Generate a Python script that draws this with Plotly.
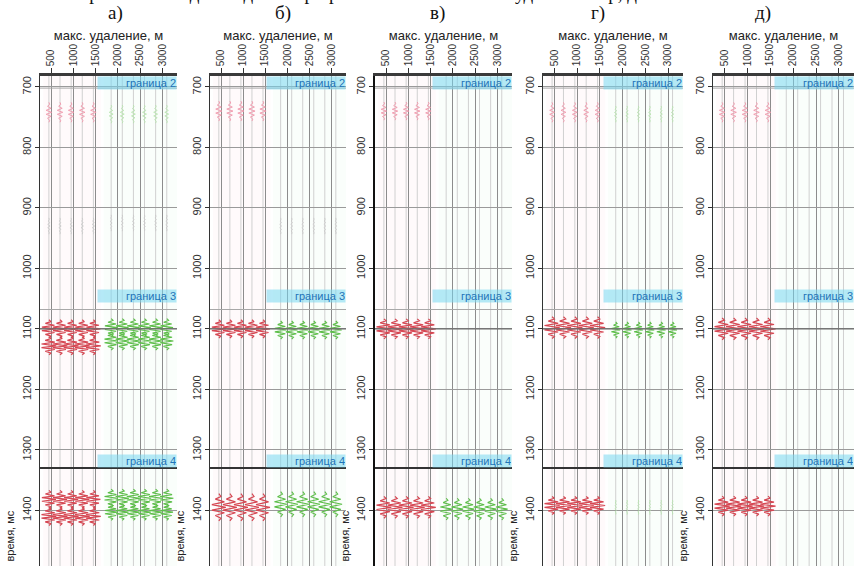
import plotly.graph_objects as go

# ---------------- data ----------------
panel_labels = ["а)", "б)", "в)", "г)", "д)"]
caption_text = "Сейсмограммы ОГТ для моделей при разных максимальных удалениях: р, д"
offset_ticks = [500, 1000, 1500, 2000, 2500, 3000]
offset_ticktext = ["500", "1000", "1500", "2000", "2500", "3000"]
time_ticks = [700, 800, 900, 1000, 1100, 1200, 1300, 1400]
time_ticktext = ["700", "800", "900", "1000", "1100", "1200", "1300", "1400"]
x_title = "макс. удаление, м"
y_title = "время, мс"

near_offsets = [450, 700, 950, 1200, 1450]
far_offsets = [1850, 2100, 2350, 2600, 2850, 3100]
trace_baselines = [450, 700, 950, 1200, 1450, 1850, 2100, 2350, 2600, 2850, 3100]

# one wavelet (relative time, ms / normalised amplitude)
wavelet_dt = [-30, -24, -18, -12, -6, 0, 6, 12, 18, 24, 30]
wavelet_amp = [0.0, 0.3, -0.5, 0.8, -1.0, 1.0, -1.0, 0.8, -0.5, 0.3, 0.0]

boundary_names = ["граница 2", "граница 3", "граница 4"]
boundary_label_times = [693, 1046, 1318]
boundary_line_times = [702, 1068, 1330]
boundary_line_dark = [False, False, True]

# events per panel: (time ms, group, colour key, amplitude, time stretch)
panel_events = [
    [(742, "near", "pink", 0.35, 0.55), (745, "far", "pale", 0.25, 0.5),
     (930, "near", "grey", 0.15, 0.45), (925, "far", "grey", 0.12, 0.45),
     (1100, "near", "red", 0.9, 0.5), (1128, "near", "red", 0.95, 0.5),
     (1098, "far", "green", 0.8, 0.5), (1120, "far", "green", 0.85, 0.5),
     (1382, "near", "red", 0.9, 0.5), (1410, "near", "red", 0.95, 0.5),
     (1380, "far", "green", 0.85, 0.5), (1403, "far", "green", 0.8, 0.45)],
    [(740, "near", "pink", 0.4, 0.55), (930, "far", "grey", 0.12, 0.45),
     (1100, "near", "red", 0.9, 0.5), (1102, "far", "green", 0.75, 0.5),
     (1395, "near", "red", 0.9, 0.75), (1390, "far", "green", 0.8, 0.7)],
    [(740, "near", "pink", 0.35, 0.5),
     (1100, "near", "red", 0.95, 0.55),
     (1395, "near", "red", 0.95, 0.6), (1398, "far", "green", 0.75, 0.6)],
    [(742, "near", "pink", 0.3, 0.55), (745, "far", "pale", 0.15, 0.45),
     (1098, "near", "red", 0.95, 0.6), (1102, "far", "green", 0.55, 0.45),
     (1392, "near", "red", 0.95, 0.5), (1395, "far", "pale", 0.1, 0.4)],
    [(742, "near", "pink", 0.35, 0.55),
     (1100, "near", "red", 0.95, 0.6),
     (1393, "near", "red", 0.95, 0.55)],
]

# ---------------- styles / layout ----------------
W, H = 854, 566
panel_px = [(40, 177), (210, 346), (375, 512), (543, 683), (713, 854)]
label_px = [115, 283, 437, 598, 763]
top_px = 76
x_range = [250, 3330]
y_range = [1492, 682]
near_band = [320, 1620]
far_band = [1680, 3330]
amp_scale = 175
colors = {"red": "rgb(214,70,82)", "green": "rgb(92,190,72)",
          "pink": "rgb(240,150,170)", "pale": "rgb(180,228,170)",
          "grey": "rgb(200,200,200)"}
widths = {"red": 1.2, "green": 1.1, "pink": 0.9, "pale": 0.8, "grey": 0.8}
FONT = "Liberation Sans"

fig = go.Figure()
layout = dict(width=W, height=H, margin=dict(l=0, r=0, t=0, b=0),
              plot_bgcolor="white", paper_bgcolor="white", showlegend=False)
annotations = []
shapes = []


def py(px):
    return 1 - px / H


for i, (l, r) in enumerate(panel_px):
    n = i + 1
    xa = "xaxis" if n == 1 else f"xaxis{n}"
    ya = "yaxis" if n == 1 else f"yaxis{n}"
    xr = "x" if n == 1 else f"x{n}"
    yr = "y" if n == 1 else f"y{n}"
    layout[xa] = dict(domain=[l / W, min(r / W, 1.0)], range=x_range, side="top",
                      anchor=yr, tickvals=offset_ticks, ticktext=offset_ticktext,
                      tickangle=-90, tickfont=dict(family=FONT, size=10, color="#333"),
                      ticks="outside", ticklen=5, tickcolor="#333",
                      showline=True, linecolor="#3a3a3a", linewidth=2.5,
                      showgrid=True, gridcolor="#8c8c8c", gridwidth=1,
                      zeroline=False, fixedrange=True,
                      title=dict(text=x_title, font=dict(family=FONT, size=13, color="#222"),
                                 standoff=1))
    layout[ya] = dict(domain=[0, py(top_px)], range=y_range, anchor=xr,
                      tickvals=time_ticks, ticktext=time_ticktext, tickangle=-90,
                      tickfont=dict(family=FONT, size=11, color="#333"),
                      ticks="outside", ticklen=4, tickcolor="#333",
                      showline=True, linecolor="#333" if n != 3 else "#111",
                      linewidth=1.2 if n != 3 else 2,
                      showgrid=True, gridcolor="#9a9a9a", gridwidth=1,
                      zeroline=False, fixedrange=True)

    # faint tinted bands
    shapes.append(dict(type="rect", xref=xr, yref=yr, x0=near_band[0], x1=near_band[1],
                       y0=y_range[1], y1=y_range[0], layer="below", line=dict(width=0),
                       fillcolor="rgba(255,190,205,0.08)"))
    shapes.append(dict(type="rect", xref=xr, yref=yr, x0=far_band[0], x1=far_band[1],
                       y0=y_range[1], y1=y_range[0], layer="below", line=dict(width=0),
                       fillcolor="rgba(190,240,200,0.08)"))
    # trace baselines
    for off in trace_baselines:
        shapes.append(dict(type="line", xref=xr, yref=yr, x0=off, x1=off,
                           y0=y_range[1], y1=y_range[0], layer="below",
                           line=dict(color="#d0d0d0", width=1)))
    # darker line at the 1100 ms level
    shapes.append(dict(type="line", xref=xr, yref=yr, x0=x_range[0], x1=x_range[1],
                       y0=1100, y1=1100, line=dict(color="#6a6a6a", width=1.2)))
    # boundaries
    for name, lt, bt, dark in zip(boundary_names, boundary_label_times,
                                  boundary_line_times, boundary_line_dark):
        shapes.append(dict(type="line", xref=xr, yref=yr, x0=x_range[0], x1=x_range[1],
                           y0=bt, y1=bt,
                           line=dict(color="#333" if dark else "#a8a8a8",
                                     width=2 if dark else 1)))
        annotations.append(dict(xref="paper", yref=yr, x=min(r, W) / W, y=lt,
                                xanchor="right", yanchor="middle", text=name,
                                showarrow=False, width=78, align="right",
                                bgcolor="rgba(120,215,240,0.55)", borderpad=0,
                                font=dict(family=FONT, size=11, color="#1f74b8")))
    # wiggles
    for (t0, grp, ck, amp, st) in panel_events[i]:
        offs = near_offsets if grp == "near" else far_offsets
        xs, ys = [], []
        for off in offs:
            for dt, a in zip(wavelet_dt, wavelet_amp):
                xs.append(off + amp * amp_scale * a)
                ys.append(t0 + st * dt)
            xs.append(None)
            ys.append(None)
        fig.add_trace(go.Scatter(x=xs, y=ys, mode="lines", xaxis=xr, yaxis=yr,
                                 line=dict(color=colors[ck], width=widths[ck]),
                                 hoverinfo="skip"))

    # panel label
    annotations.append(dict(xref="paper", yref="paper", x=label_px[i] / W, y=py(13),
                            xanchor="center", yanchor="middle", text=panel_labels[i],
                            showarrow=False,
                            font=dict(family="Liberation Serif", size=19, color="#111")))
    # y title near bottom (kept fully inside the picture)
    annotations.append(dict(xref="paper", yref="paper", x=(l - 31) / W, y=py(564),
                            xanchor="center", yanchor="bottom", text=y_title,
                            textangle=-90, showarrow=False,
                            font=dict(family=FONT, size=11, color="#222")))

# caption line at the very top (only its lower part shows, as in the reference)
annotations.append(dict(xref="paper", yref="paper", x=18 / W, y=py(6),
                        xanchor="left", yanchor="bottom", text=caption_text,
                        showarrow=False,
                        font=dict(family="Liberation Serif", size=19, color="#111")))

layout["annotations"] = annotations
layout["shapes"] = shapes
fig.update_layout(**layout)
fig.write_html("out.html")
